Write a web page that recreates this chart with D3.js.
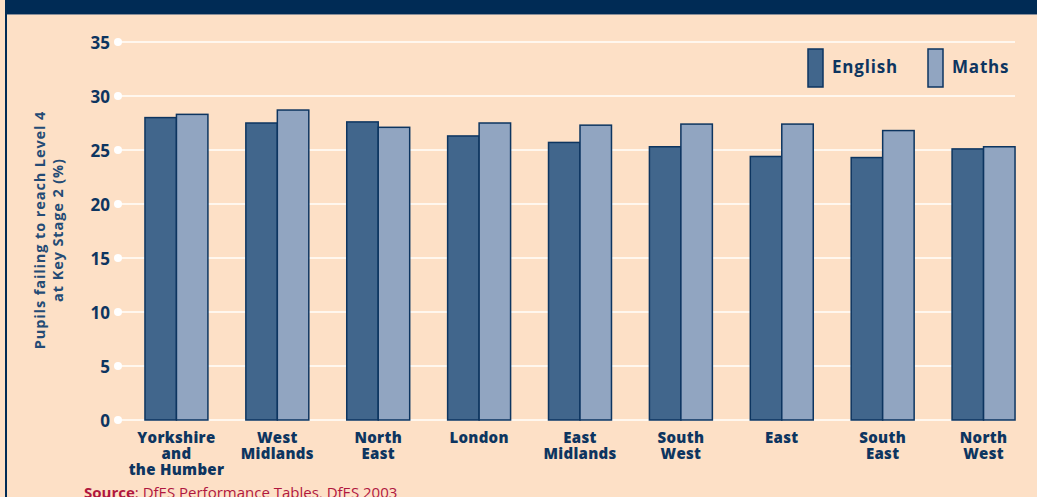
<!DOCTYPE html>
<html>
<head>
<meta charset="utf-8">
<script src="https://cdn.jsdelivr.net/npm/d3@7"></script>
<style>
  html, body { margin: 0; padding: 0; background: #fde0c6; }
  svg { display: block; }
  text { font-family: "Open Sans", "Noto Sans", sans-serif; }
</style>
</head>
<body>
<svg id="chart" width="1037" height="497"></svg>
<script>
const categories = [
  ["Yorkshire", "and", "the Humber"],
  ["West", "Midlands"],
  ["North", "East"],
  ["London"],
  ["East", "Midlands"],
  ["South", "West"],
  ["East"],
  ["South", "East"],
  ["North", "West"]
];
const seriesNames = ["English", "Maths"];
const englishValues = [28.0, 27.5, 27.6, 26.3, 25.7, 25.3, 24.4, 24.3, 25.1];
const mathsValues   = [28.3, 28.7, 27.1, 27.5, 27.3, 27.4, 27.4, 26.8, 25.3];
const yTicks = [0, 5, 10, 15, 20, 25, 30, 35];

const colors = { English: "#41668c", Maths: "#91a5c1" };
const navy = "#0d3560";

const svg = d3.select("#chart");
const W = 1037, H = 497;

svg.append("rect").attr("width", W).attr("height", H).attr("fill", "#fde0c6");
svg.append("rect").attr("x", 0).attr("y", 0).attr("width", W).attr("height", 14).attr("fill", "#002b55");
svg.append("rect").attr("x", 0).attr("y", 14).attr("width", W).attr("height", 1).attr("fill", "#8a8f99");
svg.append("rect").attr("x", 0).attr("y", 0).attr("width", 5).attr("height", H).attr("fill", "#fde0c6");
svg.append("rect").attr("x", 5).attr("y", 0).attr("width", 2).attr("height", H).attr("fill", "#002b55");

const catKeys = categories.map(c => c.join(" "));
const x = d3.scaleBand().domain(catKeys).range([126, 1034]).paddingInner(0.376).paddingOuter(0.188);
const xs = d3.scaleBand().domain(seriesNames).range([0, x.bandwidth()]);
const y = d3.scaleLinear().domain([0, 35]).range([420, 42]);

// gridlines
const grid = svg.append("g");
grid.selectAll("line").data(yTicks).join("line")
  .attr("x1", 118).attr("x2", 1015)
  .attr("y1", d => y(d)).attr("y2", d => y(d))
  .attr("stroke", "#fff7ee").attr("stroke-width", 2);
grid.selectAll("circle").data(yTicks).join("circle")
  .attr("cx", 118).attr("cy", d => y(d)).attr("r", 4).attr("fill", "#ffffff");

// y axis labels
const yAxis = d3.axisLeft(y).tickValues(yTicks).tickSize(0).tickPadding(0);
const gy = svg.append("g").attr("transform", "translate(110,0)").call(yAxis);
gy.select(".domain").remove();
gy.selectAll("text").attr("fill", navy).attr("font-size", 17).attr("font-weight", 700)
  .attr("font-family", "'Open Sans', sans-serif").attr("dy", "0.36em");

// bars
const data = catKeys.map((k, i) => ({ key: k, English: englishValues[i], Maths: mathsValues[i] }));
const groups = svg.append("g").selectAll("g").data(data).join("g")
  .attr("transform", d => `translate(${x(d.key)},0)`);
groups.selectAll("rect").data(d => seriesNames.map(s => ({ s, v: d[s] }))).join("rect")
  .attr("x", d => xs(d.s)).attr("width", xs.bandwidth())
  .attr("y", d => y(d.v)).attr("height", d => y(0) - y(d.v))
  .attr("fill", d => colors[d.s]).attr("stroke", navy).attr("stroke-width", 1.5);

// x labels
const xl = svg.append("g").selectAll("text").data(categories).join("text")
  .attr("x", (d, i) => x(catKeys[i]) + x.bandwidth() / 2)
  .attr("y", 443)
  .attr("text-anchor", "middle").attr("fill", navy)
  .attr("font-size", 15).attr("font-weight", 800).attr("letter-spacing", 0.3);
xl.selectAll("tspan").data(d => d).join("tspan")
  .attr("x", function () { return d3.select(this.parentNode).attr("x"); })
  .attr("dy", (d, i) => i === 0 ? 0 : 16)
  .text(d => d);

// y title
const yt = svg.append("text").attr("transform", "translate(45,230) rotate(-90)")
  .attr("text-anchor", "middle").attr("fill", "#244b75")
  .attr("font-size", 14.5).attr("font-weight", 700).attr("letter-spacing", 0.9);
yt.append("tspan").attr("x", 0).attr("dy", 0).text("Pupils failing to reach Level 4");
yt.append("tspan").attr("x", 0).attr("dy", 18).text("at Key Stage 2 (%)");

// legend
const legendX = [808, 928];
const lg = svg.append("g").selectAll("g").data(seriesNames).join("g")
  .attr("transform", (d, i) => `translate(${legendX[i]},49)`);
lg.append("rect").attr("width", 15).attr("height", 38)
  .attr("fill", d => colors[d]).attr("stroke", navy).attr("stroke-width", 1.5);
lg.append("text").attr("x", 24).attr("y", 24).attr("fill", navy)
  .attr("font-size", 17).attr("font-weight", 700).attr("letter-spacing", 0.8).text(d => d);

// source
const src = svg.append("text").attr("x", 84).attr("y", 498).attr("fill", "#b0173f").attr("font-size", 15);
src.append("tspan").attr("font-weight", 700).text("Source");
src.append("tspan").text(": DfES Performance Tables, DfES 2003");
</script>
</body>
</html>
